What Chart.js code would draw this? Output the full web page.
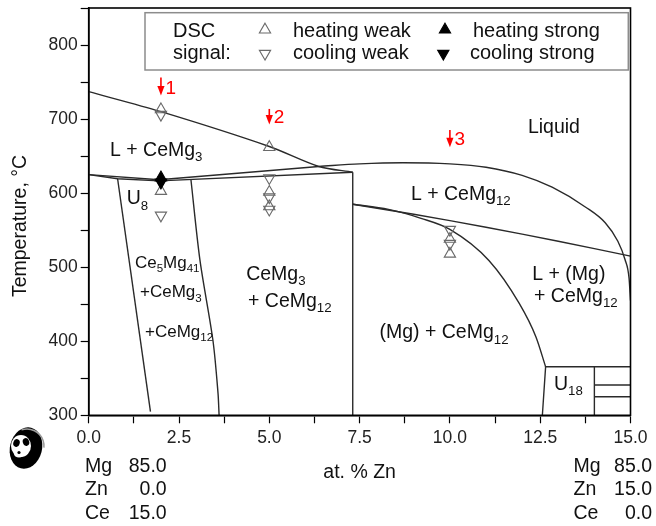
<!DOCTYPE html>
<html>
<head>
<meta charset="utf-8">
<script src="https://cdn.jsdelivr.net/npm/chart.js@4.4.1/dist/chart.umd.min.js"></script>
<style>
  html, body { margin: 0; padding: 0; background: #fff; }
  canvas { display: block; }
</style>
</head>
<body>
<canvas id="diagrama" width="656" height="526"></canvas>
<script>
const FONT = '"Liberation Sans", Arial, Helvetica, sans-serif';

// ejes (at.% Zn, °C)
const xMin = 0, xMax = 15, xStep = 1.25, xLabelStep = 2.5;
const yMin = 300, yMax = 850, yStep = 50, yLabelStep = 100, yLabelMax = 800;

// líneas del diagrama de fases
const liqCeMg3X = [0, 2, 5, 6.37, 7.31];
const liqCeMg3Y = [737, 710, 663, 636, 628.3];

const u8SupX = [0, 1.95, 6.37];
const u8SupY = [625, 618, 636];

const liqCeMg12X = [6.37, 7.5, 8.7, 10, 11, 12, 12.83, 13.76, 14.3, 14.65, 14.85, 14.96, 15];
const liqCeMg12Y = [636, 639.5, 641, 639.5, 635, 624, 608, 581, 560, 535, 510, 485, 455];

const u8TieX = [1.95, 7.31];
const u8TieY = [616.5, 628.3];

const ce5TopX = [0, 0.8, 1.95];
const ce5TopY = [625, 619.4, 616.5];

const ce5IzqX = [0.8, 1.71];
const ce5IzqY = [619.4, 305];

const ce5DerX = [2.83, 3.08, 3.44, 3.58, 3.61];
const ce5DerY = [618.4, 509.5, 401, 330, 300];

const cemg3X = [7.31, 7.31];
const cemg3Y = [300, 628.3];

const lMgX = [7.31, 9, 11, 13, 15];
const lMgY = [585, 571.5, 554, 535, 515];

const solvusX = [7.31, 8.3, 9.2, 10, 11.08, 11.92, 12.38, 12.65];
const solvusY = [585, 578, 566, 551, 509, 451, 406, 365.5];

const u18X = [12.56, 12.65, 15];
const u18Y = [300, 365.5, 365.5];
const u18VX = [14, 14];
const u18VY = [300, 365.5];
const u18aX = [14, 15];
const u18aY = [341, 341];
const u18bX = [14, 15];
const u18bY = [325, 325];

// señales DSC
const heatWeakX = [2, 2, 5, 5, 5, 10, 10];
const heatWeakY = [713, 602.7, 662, 601.5, 582, 538, 518];
const coolWeakX = [2, 2, 5, 5, 5, 10, 10];
const coolWeakY = [706, 570, 620.5, 594.6, 578, 550.7, 531.8];
const heatStrongX = [2];
const heatStrongY = [621];
const coolStrongX = [2];
const coolStrongY = [614.5];

// flechas rojas (aleaciones)
const arrowNames = ['1', '2', '3'];
const arrowX = [2, 5, 10];
const arrowTop = [756, 713.7, 685.4];
const arrowTip = [731.7, 692.6, 662];

// composiciones de los extremos
const compElems = ['Mg', 'Zn', 'Ce'];
const compLeft = ['85.0', '0.0', '15.0'];
const compRight = ['85.0', '15.0', '0.0'];

// etiquetas de regiones: texto, x, y (coordenadas de datos), tamaño
const regionLabels = [
    ['L + CeMg_3', 0.59, 650.8, 19.5],
    ['Liquid', 12.16, 680.9, 19.5],
    ['L + CeMg_12', 8.92, 591, 19.5],
    ['U_8', 1.05, 584.8, 19.5],
    ['Ce_5Mg_41', 1.28, 499.5, 17],
    ['+CeMg_3', 1.42, 459.8, 17],
    ['+CeMg_12', 1.56, 406, 17],
    ['CeMg_3', 4.36, 482.4, 19.5],
    ['+ CeMg_12', 4.41, 446.4, 19.5],
    ['(Mg) + CeMg_12', 8.05, 403.8, 19.5],
    ['L + (Mg)', 12.28, 482.3, 19.5],
    ['+ CeMg_12', 12.33, 453.1, 19.5],
    ['U_18', 12.88, 334.1, 19.5]
];

const R_MARCA = 6.5;

function pts(xs, ys) {
    return xs.map((x, i) => ({ x: x, y: ys[i] }));
}

function linea(xs, ys, curva) {
    const ds = {
        data: pts(xs, ys),
        showLine: true,
        borderColor: '#2a2a2a',
        borderWidth: 1.4,
        pointRadius: 0,
        fill: false,
        order: 2
    };
    if (curva === 'mono') ds.cubicInterpolationMode = 'monotone';
    else if (curva) ds.tension = curva;
    return ds;
}

function marcas(xs, ys, rot, relleno) {
    return {
        data: pts(xs, ys),
        showLine: false,
        pointStyle: 'triangle',
        pointRotation: rot,
        pointRadius: R_MARCA,
        pointBorderWidth: 1.1,
        pointBorderColor: relleno ? '#000' : '#6a6a6a',
        pointBackgroundColor: relleno ? '#000' : 'rgba(0,0,0,0)',
        order: 1
    };
}

// texto con subíndices marcados con "_"
function textoSub(ctx, txt, x, y, size) {
    const partes = txt.split(/_(\d+)/);
    let cx = x;
    partes.forEach((p, i) => {
        if (!p) return;
        const sub = i % 2 === 1;
        const s = sub ? size * 0.68 : size;
        ctx.font = s + 'px ' + FONT;
        ctx.fillText(p, cx, sub ? y + size * 0.27 : y);
        cx += ctx.measureText(p).width;
    });
}

function triangulo(ctx, x, y, rot, relleno) {
    const opts = { pointStyle: 'triangle', rotation: rot, radius: R_MARCA, borderWidth: 1.1 };
    ctx.save();
    ctx.strokeStyle = relleno ? '#000' : '#6a6a6a';
    ctx.fillStyle = relleno ? '#000' : 'rgba(0,0,0,0)';
    ctx.lineWidth = 1.1;
    Chart.helpers.drawPoint(ctx, opts, x, y);
    ctx.restore();
}

function panda(ctx) {
    ctx.save();
    ctx.fillStyle = '#000';
    ctx.beginPath();
    ctx.ellipse(26, 448, 16, 21, 0.25, 0, Math.PI * 2);
    ctx.fill();
    ctx.strokeStyle = '#9a9a9a';
    ctx.lineWidth = 1.5;
    ctx.beginPath();
    ctx.arc(27, 446, 17, -1.9, 0.1);
    ctx.stroke();
    ctx.fillStyle = '#fff';
    ctx.beginPath();
    ctx.ellipse(21, 446, 10, 11, 0, 0, Math.PI * 2);
    ctx.fill();
    ctx.fillStyle = '#000';
    ctx.beginPath();
    ctx.ellipse(16.5, 443, 3.2, 4, 0.3, 0, Math.PI * 2);
    ctx.ellipse(26, 442, 3.2, 4, -0.3, 0, Math.PI * 2);
    ctx.fill();
    ctx.fillStyle = '#fff';
    ctx.beginPath();
    ctx.ellipse(19, 454, 5, 3.5, 0, 0, Math.PI * 2);
    ctx.fill();
    ctx.fillStyle = '#000';
    ctx.beginPath();
    ctx.arc(19, 452.5, 1.6, 0, Math.PI * 2);
    ctx.fill();
    ctx.restore();
}

const decoracion = {
    id: 'decoracion',
    afterDatasetsDraw(chart) {
        const { ctx, chartArea: a, scales } = chart;
        const sx = scales.x, sy = scales.y;
        ctx.save();

        // marco
        ctx.strokeStyle = '#000';
        ctx.lineWidth = 1.6;
        ctx.strokeRect(a.left, a.top, a.right - a.left, a.bottom - a.top);

        // etiquetas de regiones
        ctx.fillStyle = '#111';
        ctx.textAlign = 'left';
        ctx.textBaseline = 'alphabetic';
        regionLabels.forEach(l => {
            textoSub(ctx, l[0], sx.getPixelForValue(l[1]), sy.getPixelForValue(l[2]), l[3]);
        });

        // flechas
        ctx.strokeStyle = '#ff0000';
        ctx.fillStyle = '#ff0000';
        arrowX.forEach((v, i) => {
            const px = sx.getPixelForValue(v);
            const y0 = sy.getPixelForValue(arrowTop[i]);
            const y1 = sy.getPixelForValue(arrowTip[i]);
            ctx.lineWidth = 1.6;
            ctx.beginPath();
            ctx.moveTo(px, y0);
            ctx.lineTo(px, y1 - 8);
            ctx.stroke();
            ctx.beginPath();
            ctx.moveTo(px - 3.6, y1 - 9.5);
            ctx.lineTo(px + 3.6, y1 - 9.5);
            ctx.lineTo(px, y1);
            ctx.closePath();
            ctx.fill();
            ctx.font = '19px ' + FONT;
            ctx.fillText(arrowNames[i], px + 4.5, y1 - 2);
        });

        // leyenda
        ctx.strokeStyle = '#8c8c8c';
        ctx.lineWidth = 1.5;
        ctx.strokeRect(145, 12.7, 483.3, 57.3);
        ctx.fillStyle = '#111';
        ctx.font = '20px ' + FONT;
        ctx.fillText('DSC', 173, 36.7);
        ctx.fillText('signal:', 173, 59);
        ctx.fillText('heating weak', 293, 36.7);
        ctx.fillText('cooling weak', 293, 59);
        ctx.fillText('heating strong', 473, 36.7);
        ctx.fillText('cooling strong', 470, 59);
        triangulo(ctx, 265, 29.7, 0, false);
        triangulo(ctx, 265, 53.6, 180, false);
        triangulo(ctx, 445, 29.7, 0, true);
        triangulo(ctx, 443.3, 53.6, 180, true);
        ctx.restore();
    },
    afterDraw(chart) {
        const { ctx, chartArea: a } = chart;
        ctx.save();
        ctx.fillStyle = '#111';
        ctx.font = '19.5px ' + FONT;
        ctx.textBaseline = 'alphabetic';

        // títulos de ejes
        ctx.textAlign = 'center';
        ctx.fillText('at. % Zn', (a.left + a.right) / 2, 478);
        ctx.save();
        ctx.translate(25.5, 226);
        ctx.rotate(-Math.PI / 2);
        ctx.fillText('Temperature, \u00B0C', 0, 0);
        ctx.restore();

        // composiciones
        const filas = [471.7, 495, 519];
        compElems.forEach((el, i) => {
            ctx.textAlign = 'left';
            ctx.fillText(el, 85, filas[i]);
            ctx.fillText(el, 573.5, filas[i]);
            ctx.textAlign = 'right';
            ctx.fillText(compLeft[i], 166.7, filas[i]);
            ctx.fillText(compRight[i], 652, filas[i]);
        });
        ctx.restore();

        panda(ctx);
    }
};

const datasets = [
    marcas(heatStrongX, heatStrongY, 0, true),
    marcas(coolStrongX, coolStrongY, 180, true),
    marcas(heatWeakX, heatWeakY, 0, false),
    marcas(coolWeakX, coolWeakY, 180, false),
    linea(liqCeMg3X, liqCeMg3Y, 0.3),
    linea(u8SupX, u8SupY),
    linea(liqCeMg12X, liqCeMg12Y, 'mono'),
    linea(u8TieX, u8TieY),
    linea(ce5TopX, ce5TopY),
    linea(ce5IzqX, ce5IzqY),
    linea(ce5DerX, ce5DerY, 0.3),
    linea(cemg3X, cemg3Y),
    linea(lMgX, lMgY, 0.3),
    linea(solvusX, solvusY, 'mono'),
    linea(u18X, u18Y),
    linea(u18VX, u18VY),
    linea(u18aX, u18aY),
    linea(u18bX, u18bY)
];

const esMultiplo = (v, paso) => Math.abs(v / paso - Math.round(v / paso)) < 1e-6;

new Chart(document.getElementById('diagrama'), {
    type: 'scatter',
    data: { datasets: datasets },
    options: {
        responsive: false,
        animation: false,
        events: [],
        layout: { padding: { left: 0, right: 25.5, top: 8, bottom: 0 } },
        plugins: {
            legend: { display: false },
            tooltip: { enabled: false }
        },
        scales: {
            x: {
                type: 'linear',
                min: xMin,
                max: xMax,
                ticks: {
                    stepSize: xStep,
                    autoSkip: false,
                    maxRotation: 0,
                    padding: 4,
                    color: '#222',
                    font: { family: FONT, size: 17.5 },
                    callback: v => esMultiplo(v, xLabelStep) ? v.toFixed(1) : ''
                },
                grid: { drawOnChartArea: false, tickLength: 8, color: '#000', tickWidth: 1.2 },
                border: { color: '#000', width: 1.6 },
                afterFit: s => { s.height = 110.7; s.paddingLeft = 0; s.paddingRight = 0; }
            },
            y: {
                type: 'linear',
                min: yMin,
                max: yMax,
                ticks: {
                    stepSize: yStep,
                    autoSkip: false,
                    padding: 3,
                    color: '#222',
                    font: { family: FONT, size: 17.5 },
                    callback: v => (esMultiplo(v, yLabelStep) && v <= yLabelMax) ? String(v) : ''
                },
                grid: { drawOnChartArea: false, tickLength: 8, color: '#000', tickWidth: 1.2 },
                border: { color: '#000', width: 1.6 },
                afterFit: s => { s.width = 88.7; s.paddingTop = 0; s.paddingBottom = 0; }
            }
        }
    },
    plugins: [decoracion]
});
</script>
</body>
</html>
